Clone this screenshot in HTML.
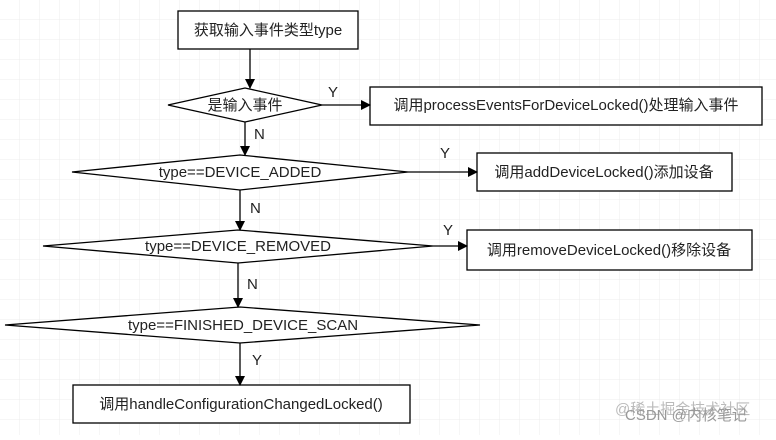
<!DOCTYPE html>
<html><head><meta charset="utf-8"><style>
body{margin:0}
svg text{font-family:"Liberation Sans","Noto Sans CJK SC",sans-serif;font-size:15px;fill:#222}
</style></head><body>
<svg width="776" height="435" xmlns="http://www.w3.org/2000/svg">
<defs>
<pattern id="g" width="20" height="20" patternUnits="userSpaceOnUse"><path d="M20 0V20H0" fill="none" stroke="#ececec" stroke-width="1"/></pattern>
<marker id="a" markerWidth="10" markerHeight="10" refX="9" refY="5" orient="auto" markerUnits="userSpaceOnUse"><path d="M0 0L10 5L0 10Z" fill="#000"/></marker>
</defs>
<rect width="776" height="435" fill="#fff"/>
<rect width="776" height="435" fill="url(#g)"/>
<g stroke="#000" stroke-width="1.3" fill="#fff">
<rect x="178" y="11" width="180" height="38"/>
<polygon points="168,105 245,88 322,105 245,122"/>
<rect x="370" y="87" width="392" height="38"/>
<polygon points="72,172 240,155 408,172 240,190"/>
<rect x="477" y="153" width="255" height="38"/>
<polygon points="43,246 238,230 433,246 238,263"/>
<rect x="467" y="230" width="285" height="40"/>
<polygon points="5,325 240,307 480,325 240,343"/>
<rect x="73" y="385" width="337" height="38"/>
</g>
<g stroke="#000" stroke-width="1.3" fill="none" marker-end="url(#a)">
<line x1="250" y1="49" x2="250" y2="88"/>
<line x1="322" y1="105" x2="370" y2="105"/>
<line x1="245" y1="122" x2="245" y2="155"/>
<line x1="408" y1="172" x2="477" y2="172"/>
<line x1="240" y1="190" x2="240" y2="230"/>
<line x1="433" y1="246" x2="467" y2="246"/>
<line x1="238" y1="263" x2="238" y2="307"/>
<line x1="240" y1="343" x2="240" y2="385"/>
</g>
<text x="268" y="35" text-anchor="middle">获取输入事件类型type</text>
<text x="245" y="110" text-anchor="middle">是输入事件</text>
<text x="566" y="110" text-anchor="middle">调用processEventsForDeviceLocked()处理输入事件</text>
<text x="240" y="177" text-anchor="middle">type==DEVICE_ADDED</text>
<text x="604" y="177" text-anchor="middle">调用addDeviceLocked()添加设备</text>
<text x="238" y="251" text-anchor="middle">type==DEVICE_REMOVED</text>
<text x="609" y="255" text-anchor="middle">调用removeDeviceLocked()移除设备</text>
<text x="243" y="330" text-anchor="middle">type==FINISHED_DEVICE_SCAN</text>
<text x="241" y="409" text-anchor="middle">调用handleConfigurationChangedLocked()</text>
<text x="328" y="97">Y</text>
<text x="440" y="158">Y</text>
<text x="443" y="235">Y</text>
<text x="254" y="139">N</text>
<text x="250" y="213">N</text>
<text x="247" y="289">N</text>
<text x="252" y="365">Y</text>
<text x="615" y="414" style="fill:#bbb;font-size:15px">@稀土掘金技术社区</text>
<text x="625" y="420" style="fill:#999;font-size:15px">CSDN @内核笔记</text>
</svg>
</body></html>
